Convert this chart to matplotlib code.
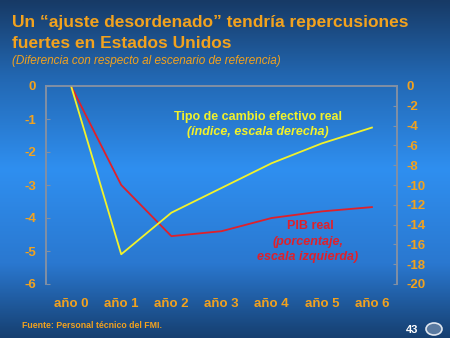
import matplotlib
matplotlib.use("Agg")
import matplotlib.pyplot as plt
import numpy as np
from matplotlib.colors import LinearSegmentedColormap

categories = ["año 0", "año 1", "año 2", "año 3", "año 4", "año 5", "año 6"]
pib_real = [0.0, -3.0, -4.55, -4.4, -4.0, -3.8, -3.67]
tcer = [0.0, -17.0, -12.8, -10.3, -7.8, -5.8, -4.2]
left_ticks = [0, -1, -2, -3, -4, -5, -6]
right_ticks = [0, -2, -4, -6, -8, -10, -12, -14, -16, -18, -20]

W, H = 450, 338
fig = plt.figure(figsize=(W / 100, H / 100), dpi=100)

# background gradient
bg = fig.add_axes([0, 0, 1, 1])
cmap = LinearSegmentedColormap.from_list(
    "bg", [(0.0, "#173a66"), (0.22, "#2266b0"), (0.5, "#2f8ff0"), (0.78, "#2a78d0"), (1.0, "#163f70")])
grad = np.linspace(0, 1, 256).reshape(-1, 1)
bg.imshow(grad, aspect="auto", cmap=cmap, extent=[0, 1, 0, 1], origin="upper")
bg.set_axis_off()

orange = "#f2a21e"
spine_c = "#8290a4"

ax = fig.add_axes([46 / W, 1 - 284 / H, (397 - 46) / W, (284 - 86) / H])
ax.patch.set_alpha(0)
x = np.arange(len(categories))
ax.plot(x, pib_real, color="#e0202a", lw=1.3)
ax.set_xlim(-0.5, len(categories) - 0.5)
ax.set_ylim(-6, 0)
ax.set_yticks(left_ticks)
ax.set_yticklabels([str(t) for t in left_ticks])
ax.set_xticks(x)
ax.set_xticklabels(categories)
for s in ["left", "right", "top"]:
    ax.spines[s].set_color(spine_c)
    ax.spines[s].set_linewidth(1.2)
ax.spines["bottom"].set_visible(False)
ax.tick_params(axis="y", colors=spine_c, labelcolor=orange, labelsize=9.5, length=3, direction="in", pad=7)
ax.tick_params(axis="x", colors=spine_c, labelcolor=orange, labelsize=9.5, length=0, pad=10)
for lab in ax.get_yticklabels() + ax.get_xticklabels():
    lab.set_fontweight("bold")
    lab.set_family("Liberation Sans")

ax2 = ax.twinx()
ax2.plot(x, tcer, color="#f2f22a", lw=1.3)
ax2.set_ylim(-20, 0)
ax2.set_yticks(right_ticks)
ax2.set_yticklabels([str(t) for t in right_ticks])
ax2.tick_params(axis="y", colors=spine_c, labelcolor=orange, labelsize=9.5, length=3, direction="in", pad=7)
for s in ["left", "right", "top"]:
    ax2.spines[s].set_color(spine_c)
    ax2.spines[s].set_linewidth(1.2)
ax2.spines["bottom"].set_visible(False)
for lab in ax2.get_yticklabels():
    lab.set_fontweight("bold")
    lab.set_family("Liberation Sans")

# annotations
fs = 9
fig.text(258 / W, 1 - 117 / H, "Tipo de cambio efectivo real", color="#f2f22a",
         fontsize=fs, fontweight="bold", family="Liberation Sans", ha="center", va="center")
fig.text(258 / W, 1 - 132 / H, "(índice, escala derecha)", color="#f2f22a",
         fontsize=fs, fontweight="bold", style="italic", family="Liberation Sans", ha="center", va="center")
fig.text(310 / W, 1 - 226 / H, "PIB real", color="#e0202a",
         fontsize=fs, fontweight="bold", family="Liberation Sans", ha="center", va="center")
fig.text(308 / W, 1 - 242 / H, "(porcentaje,", color="#e0202a",
         fontsize=fs, fontweight="bold", style="italic", family="Liberation Sans", ha="center", va="center")
fig.text(308 / W, 1 - 257 / H, "escala izquierda)", color="#e0202a",
         fontsize=fs, fontweight="bold", style="italic", family="Liberation Sans", ha="center", va="center")

# title
fig.text(12 / W, 1 - 22 / H, "Un \u201cajuste desordenado\u201d tendría repercusiones",
         color=orange, fontsize=12.5, fontweight="bold", family="Liberation Sans", va="center")
fig.text(12 / W, 1 - 43 / H, "fuertes en Estados Unidos",
         color=orange, fontsize=12.5, fontweight="bold", family="Liberation Sans", va="center")
fig.text(12 / W, 1 - 61 / H, "(Diferencia con respecto al escenario de referencia)",
         color=orange, fontsize=8.5, style="italic", family="Liberation Sans", va="center")

fig.text(22 / W, 1 - 326 / H, "Fuente: Personal técnico del FMI.", color=orange,
         fontsize=6.3, fontweight="bold", family="Liberation Sans", va="center")
fig.text(412 / W, 1 - 330 / H, "43", color="white", fontsize=8, fontweight="bold",
         family="Liberation Sans", va="center", ha="center")
circ = plt.Circle((434 / W, 1 - 329 / H), 8 / W, transform=fig.transFigure,
                  facecolor="#5a7aa0", edgecolor="#dfe6ef", lw=1.2)
fig.patches.append(circ)

fig.savefig("out.png", dpi=100)
